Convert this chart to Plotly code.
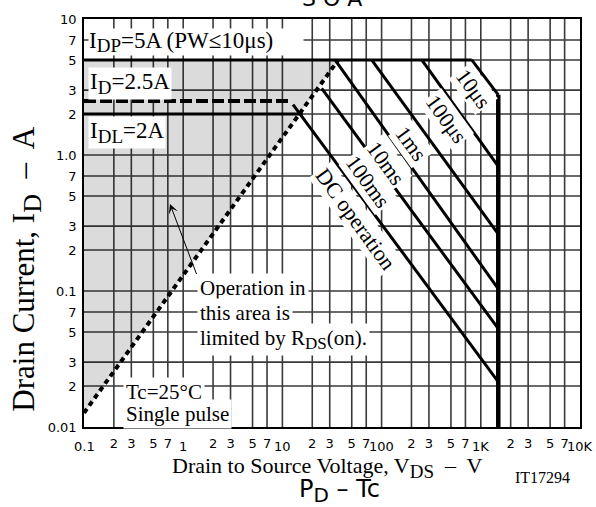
import numpy as np
import plotly.graph_objects as go

# ---- axis ticks ----
x_minor_vals = [m * 10.0 ** e for e in range(-1, 4) for m in (2, 3, 5, 7)]
x_minor_text = ["2", "3", "5", "7"] * 5
x_decade_vals = [0.1, 1, 10, 100, 1000, 10000]
x_decade_text = ["0.1", "1", "10", "100", "1K", "10K"]
y_vals = [0.01, 0.02, 0.03, 0.05, 0.07, 0.1, 0.2, 0.3, 0.5, 0.7, 1, 2, 3, 5, 7, 10]
y_text = ["0.01", "2", "3", "5", "7", "0.1", "2", "3", "5", "7", "1.0", "2", "3", "5", "7", "10"]

# ---- limit lines (V, A) ----
idp_v = [0.1, 810]
idp_i = [5, 5]
id_v = [0.1, 12.5]
id_i = [2.5, 2.5]
idl_v = [0.1, 16]
idl_i = [2, 2]
rds_v = [0.1, 36.6]
rds_i = [0.0127, 5]
vdss_v = [1500, 1500]
vdss_i = [2.77, 0.01]

# ---- pulse-width limit lines ----
pulse_names = ["10μs", "100μs", "1ms", "10ms", "100ms", "DC operation"]
pulse_v0 = [810, 254, 79.4, 33.9, 24.9, 12.8]
pulse_i0 = [5, 5, 5, 5, 3.09, 2.35]
pulse_v1 = [1500, 1500, 1500, 1500, 1500, 1500]
pulse_i1 = [2.77, 0.826, 0.262, 0.1035, 0.0528, 0.0215]
label_v = [834, 446, 198, 111, 73, 54]
label_i = [3.07, 1.856, 1.22, 0.869, 0.642, 0.339]

SERIF = "Liberation Serif"
SANS = "DejaVu Sans"
lg = np.log10
V_MIN, V_MAX = x_decade_vals[0], x_decade_vals[-1]
I_MIN, I_MAX = y_vals[0], y_vals[-1]

fig = go.Figure()

# chart grid at the 1-2-3-5-7 positions of every decade
for v in sorted(x_minor_vals + x_decade_vals[1:-1]):
    fig.add_trace(go.Scatter(x=[v, v], y=[I_MIN, I_MAX], mode="lines",
                             line=dict(color="#3a3a3a", width=1.6), hoverinfo="skip"))
for i in y_vals[1:-1]:
    fig.add_trace(go.Scatter(x=[V_MIN, V_MAX], y=[i, i], mode="lines",
                             line=dict(color="#3a3a3a", width=1.6), hoverinfo="skip"))

# R_DS(on)-limited region
fig.add_trace(go.Scatter(
    x=[rds_v[0], rds_v[1], rds_v[0]], y=[rds_i[0], rds_i[1], idp_i[0]],
    fill="toself", fillcolor="rgba(0,0,0,0.14)", mode="lines",
    line=dict(width=0), hoverinfo="skip"))

fig.add_trace(go.Scatter(x=idp_v, y=idp_i, mode="lines", line=dict(color="black", width=3)))
fig.add_trace(go.Scatter(x=id_v, y=id_i, mode="lines",
                         line=dict(color="black", width=4, dash="12px,4px")))
fig.add_trace(go.Scatter(x=idl_v, y=idl_i, mode="lines", line=dict(color="black", width=3)))
fig.add_trace(go.Scatter(x=vdss_v, y=vdss_i, mode="lines", line=dict(color="black", width=4.5)))
for v0, i0, v1, i1 in zip(pulse_v0, pulse_i0, pulse_v1, pulse_i1):
    fig.add_trace(go.Scatter(x=[v0, v1], y=[i0, i1], mode="lines",
                             line=dict(color="black", width=3)))
fig.add_trace(go.Scatter(x=rds_v, y=rds_i, mode="lines",
                         line=dict(color="black", width=4, dash="5px,4px")))

ann = []
lab_font = dict(family=SERIF, size=21, color="black")
big_font = dict(family=SERIF, size=23, color="black")


def sub(s, px=17):
    return '<sub><span style="font-size:%dpx">%s</span></sub>' % (px, s)


# rotated pulse-width labels
for name, v, i in zip(pulse_names, label_v, label_i):
    ann.append(dict(x=lg(v), y=lg(i), xref="x", yref="y", text=name, showarrow=False,
                    textangle=54, font=dict(family=SERIF, size=22, color="black"),
                    bgcolor="white", borderpad=1))

ann.append(dict(x=lg(0.1097), y=lg(6.79), xref="x", yref="y", xanchor="left",
                text="I" + sub("DP", 19) + "=5A (PW≤10μs)", showarrow=False, font=big_font,
                bgcolor="white", width=214, height=26, align="left", borderpad=0))
ann.append(dict(x=lg(0.1097), y=lg(3.34), xref="x", yref="y", xanchor="left",
                text="I" + sub("D", 19) + "=2.5A", showarrow=False, font=big_font,
                bgcolor="white", borderpad=1))
ann.append(dict(x=lg(0.1097), y=lg(1.47), xref="x", yref="y", xanchor="left",
                text="I" + sub("DL", 19) + "=2A", showarrow=False, font=big_font,
                bgcolor="white", borderpad=1))

for txt, i in [("Operation in", 0.106), ("this area is", 0.0684),
               ("limited by R" + sub("DS") + "(on).", 0.044)]:
    ann.append(dict(x=lg(1.38), y=lg(i), xref="x", yref="y", xanchor="left",
                    text=txt, showarrow=False, font=lab_font, bgcolor="white", borderpad=2))
ann.append(dict(x=lg(0.736), y=lg(0.436), ax=lg(1.38), ay=lg(0.13), xref="x", yref="y",
                axref="x", ayref="y", text="", showarrow=True, arrowhead=3,
                arrowsize=1.6, arrowwidth=1, arrowcolor="black"))

ann.append(dict(x=lg(0.245), y=lg(0.0181), xref="x", yref="y", xanchor="left",
                text="Tc=25°C", showarrow=False, font=lab_font, bgcolor="white", borderpad=2))
ann.append(dict(x=lg(0.245), y=lg(0.01247), xref="x", yref="y", xanchor="left",
                text="Single pulse", showarrow=False, font=lab_font, bgcolor="white", borderpad=2))

# decade labels of the voltage axis, set a little lower than the 2-3-5-7 labels
for v, t in zip(x_decade_vals, x_decade_text):
    ann.append(dict(x=lg(v), y=-0.049, xref="x", yref="paper", text=t, showarrow=False,
                    xanchor="center", yanchor="middle",
                    font=dict(family=SANS, size=13, color="black")))

# axis titles and captions
ann.append(dict(x=0.49, y=-0.1, xref="paper", yref="paper", showarrow=False,
                xanchor="center", yanchor="middle",
                text="Drain to Source Voltage, V" + sub("DS", 19) + "  –  V",
                font=dict(family=SERIF, size=22, color="black")))
ann.append(dict(x=-0.115, y=0.388, xref="paper", yref="paper", showarrow=False,
                xanchor="center", yanchor="middle", textangle=-90,
                text="Drain Current, I" + sub("D", 26) + "  –  A",
                font=dict(family=SERIF, size=31, color="black")))
ann.append(dict(x=0.925, y=-0.124, xref="paper", yref="paper", showarrow=False,
                xanchor="center", yanchor="middle",
                text="IT17294", font=dict(family=SERIF, size=16, color="black")))
ann.append(dict(x=0.516, y=-0.158, xref="paper", yref="paper", showarrow=False,
                xanchor="center", yanchor="middle",
                text="P" + sub("D", 20) + " – Tc",
                font=dict(family=SANS, size=24, color="black")))
ann.append(dict(x=0.5, y=1.014, xref="paper", yref="paper", showarrow=False,
                xanchor="center", yanchor="bottom",
                text="S O A", font=dict(family=SANS, size=22, color="black")))

frame = dict(showgrid=False, zeroline=False, showline=True, mirror=True,
             linecolor="black", linewidth=1.5, ticks="", ticklen=0)

fig.update_layout(
    width=596, height=507, margin=dict(l=84, r=16, t=17, b=80),
    paper_bgcolor="white", plot_bgcolor="white", showlegend=False,
    annotations=ann,
    xaxis=dict(type="log", range=[-1, 4], tickvals=x_minor_vals + x_decade_vals,
               ticktext=x_minor_text + [""] * len(x_decade_vals),
               tickfont=dict(family=SANS, size=13, color="black"), ticklabelstandoff=4,
               **frame),
    yaxis=dict(type="log", range=[-2, 1], tickvals=y_vals, ticktext=y_text,
               tickfont=dict(family=SANS, size=13, color="black"), ticklabelstandoff=3,
               **frame),
)

fig.write_html("out.html")
